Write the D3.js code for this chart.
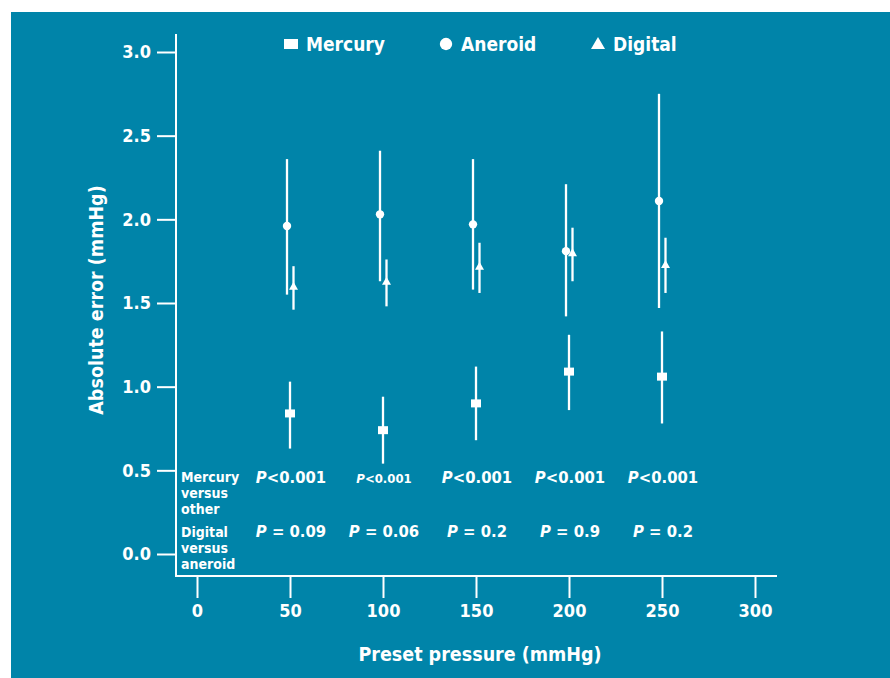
<!DOCTYPE html>
<html>
<head>
<meta charset="utf-8">
<script src="https://cdn.jsdelivr.net/npm/d3@7"></script>
<style>
  body { margin: 0; background: #fff; }
  svg { display: block; }
  text { font-family: "DejaVu Sans Condensed", "DejaVu Sans", sans-serif; font-weight: bold; fill: #fff; }
</style>
</head>
<body>
<svg id="chart" width="890" height="678"></svg>
<script>
const pressures = [50, 100, 150, 200, 250];
const xTicks = [0, 50, 100, 150, 200, 250, 300];
const yTicks = [0, 0.5, 1.0, 1.5, 2.0, 2.5, 3.0];

// mean, lower, upper
const mercury = [[0.84, 0.63, 1.03], [0.74, 0.54, 0.94], [0.90, 0.68, 1.12], [1.09, 0.86, 1.31], [1.06, 0.78, 1.33]];
const aneroid = [[1.96, 1.55, 2.36], [2.03, 1.63, 2.41], [1.97, 1.58, 2.36], [1.81, 1.42, 2.21], [2.11, 1.47, 2.75]];
const digital = [[1.60, 1.46, 1.72], [1.63, 1.48, 1.76], [1.72, 1.56, 1.86], [1.80, 1.63, 1.95], [1.73, 1.56, 1.89]];

const mercuryP = ["<0.001", "<0.001", "<0.001", "<0.001", "<0.001"];
const digitalP = [" = 0.09", " = 0.06", " = 0.2", " = 0.9", " = 0.2"];

const svg = d3.select("#chart");
svg.append("rect").attr("x", 11).attr("y", 12).attr("width", 879).attr("height", 666).attr("fill", "#0084a9");

const x = d3.scaleLinear().domain([0, 300]).range([197, 755]);
const y = d3.scaleLinear().domain([0, 3]).range([554, 52]);

// axes
const yAxis = d3.axisLeft(y).tickValues(yTicks).tickFormat(d3.format(".1f")).tickSize(19).tickPadding(6);
const gy = svg.append("g").attr("transform", "translate(176,0)").call(yAxis);
gy.select(".domain").remove();
gy.append("line").attr("x1", 0).attr("x2", 0).attr("y1", 34).attr("y2", 577).attr("stroke", "#fff").attr("stroke-width", 2);

const xAxis = d3.axisBottom(x).tickValues(xTicks).tickSize(22).tickPadding(6);
const gx = svg.append("g").attr("transform", "translate(0,576)").call(xAxis);
gx.select(".domain").remove();
gx.append("line").attr("x1", 175).attr("x2", 777).attr("y1", 0).attr("y2", 0).attr("stroke", "#fff").attr("stroke-width", 2);

svg.selectAll(".tick line").attr("stroke", "#fff").attr("stroke-width", 2);
svg.selectAll(".tick text").attr("fill", "#fff").style("font-size", "18px").style("font-family", "'DejaVu Sans Condensed', sans-serif").style("font-weight", "bold");

svg.append("text").attr("x", 480).attr("y", 661).attr("text-anchor", "middle").style("font-size", "19.5px").text("Preset pressure (mmHg)");
svg.append("text").attr("transform", "translate(103,300) rotate(-90)").attr("text-anchor", "middle").style("font-size", "19.5px").text("Absolute error (mmHg)");

// error bars + markers
function series(data, dx, shape) {
  const g = svg.append("g");
  g.selectAll("line").data(data).join("line")
    .attr("x1", (d, i) => x(pressures[i]) + dx).attr("x2", (d, i) => x(pressures[i]) + dx)
    .attr("y1", d => y(d[1])).attr("y2", d => y(d[2]))
    .attr("stroke", "#fff").attr("stroke-width", 2.3);
  g.selectAll("path").data(data).join("path")
    .attr("transform", (d, i) => `translate(${x(pressures[i]) + dx},${y(d[0])})`)
    .attr("d", shape)
    .attr("fill", "#fff");
}
const sq = "M-5,-4H5V4H-5Z";
const circ = d3.symbol(d3.symbolCircle, 55)();
const tri = "M0,-4.5L4.5,3.5H-4.5Z";
series(mercury, 0, sq);
series(aneroid, -3, circ);
series(digital, 3.5, tri);

// p-value rows
function pRow(vals, yy, sizes) {
  const t = svg.append("g").selectAll("text").data(vals).join("text")
    .attr("x", (d, i) => x(pressures[i]) + 1).attr("y", yy)
    .attr("text-anchor", "middle")
    .style("font-size", (d, i) => sizes[i] + "px");
  t.append("tspan").style("font-style", "italic").text("P");
  t.append("tspan").text(d => d);
}
pRow(mercuryP, 483, [16.5, 13, 16.5, 16.5, 16.5]);
pRow(digitalP, 537, [16.5, 16.5, 16.5, 16.5, 16.5]);

// row labels, one text per line
function label(lines, yy) {
  svg.append("g").selectAll("text").data(lines).join("text")
    .attr("x", 181).attr("y", (d, i) => yy + i * 15.8)
    .style("font-size", "14px").text(d => d);
}
label(["Mercury", "versus", "other"], 482);
label(["Digital", "versus", "aneroid"], 537);

// legend
const legend = [
  { name: "Mercury", shape: "M-7,-5H7V5H-7Z", x: 291 },
  { name: "Aneroid", shape: d3.symbol(d3.symbolCircle, 120)(), x: 446 },
  { name: "Digital", shape: "M0,-7L7,5H-7Z", x: 598 }
];
const lg = svg.append("g").selectAll("g").data(legend).join("g")
  .attr("transform", d => `translate(${d.x},44)`);
lg.append("path").attr("d", d => d.shape).attr("fill", "#fff");
lg.append("text").attr("x", 15).attr("y", 7).style("font-size", "19px").text(d => d.name);
</script>
</body>
</html>
